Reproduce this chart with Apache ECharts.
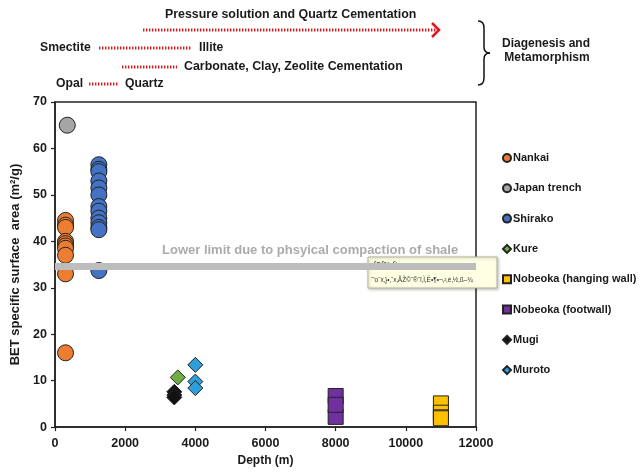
<!DOCTYPE html>
<html>
<head>
<meta charset="utf-8">
<script src="https://cdn.jsdelivr.net/npm/echarts@6/dist/echarts.min.js"></script>
<style>
  html, body { margin: 0; padding: 0; background: #fff; }
  #chart { width: 641px; height: 472px; }
</style>
</head>
<body>
<div id="chart"></div>
<script>
// Sample depths (m) and BET specific surface areas (m²/g) per locality
const nankaiDepth = 300;
const nankaiArea = [44.5, 43.5, 43, 40, 39.5, 39, 38.5, 37, 33, 16];
const japanTrenchDepth = 350;
const japanTrenchArea = [65];
const shirakoDepth = 1250;
const shirakoArea = [56.5, 55.5, 55, 53, 51.5, 50, 47.5, 46.5, 45, 44, 43, 42.5, 33.7];
const kureDepth = 3500;
const kureArea = [10.7];
const hangingWallDepth = 11000;
const hangingWallArea = [5.1, 3.1, 2.1, 1.9];
const footwallDepth = 8000;
const footwallArea = [2.2, 6.7, 4.8];
const mugiDepth = 3400;
const mugiArea = [7.6, 6.9, 6.4];
const murotoDepth = 4000;
const murotoArea = [13.4, 9.8, 8.4];

// Compaction limit of shale
const compactionLimit = 34.6;

const xTicks = { min: 0, max: 12000, interval: 2000 };
const yTicks = { min: 0, max: 70, interval: 10 };

const seriesNames = ['Nankai', 'Japan trench', 'Shirako', 'Kure',
  'Nobeoka (hanging wall)', 'Nobeoka (footwall)', 'Mugi', 'Muroto'];

const FONT = '"Liberation Sans", Arial, sans-serif';
const INK = '#1a1a1a';

function pts(depth, values) {
  return values.map(v => [depth, v]);
}

function scatter(name, data, symbol, size, color) {
  return {
    name: name,
    type: 'scatter',
    data: data,
    symbol: symbol,
    symbolSize: size,
    itemStyle: { color: color, borderColor: '#222', borderWidth: 1, opacity: 1 },
    emphasis: { disabled: true }
  };
}

const series = [
  scatter(seriesNames[0], pts(nankaiDepth, nankaiArea), 'circle', 16, '#ED7D31'),
  scatter(seriesNames[1], pts(japanTrenchDepth, japanTrenchArea), 'circle', 16, '#A5A5A5'),
  scatter(seriesNames[2], pts(shirakoDepth, shirakoArea), 'circle', 16, '#4472C4'),
  scatter(seriesNames[3], pts(kureDepth, kureArea), 'diamond', 15, '#70AD47'),
  scatter(seriesNames[4], pts(hangingWallDepth, hangingWallArea), 'rect', [15, 15], '#FFC000'),
  scatter(seriesNames[5], pts(footwallDepth, footwallArea), 'rect', [15, 15], '#7030A0'),
  scatter(seriesNames[6], pts(mugiDepth, mugiArea), 'diamond', 15, '#111111'),
  scatter(seriesNames[7], pts(murotoDepth, murotoArea), 'diamond', 15, '#2E9FDB')
];

// Grey band marking the compaction limit, drawn beneath the markers
series.unshift({
  name: 'limit',
  type: 'scatter',
  data: [],
  silent: true,
  z: 1,
  markLine: {
    silent: true,
    symbol: 'none',
    label: { show: false },
    lineStyle: { color: '#BDBDBD', width: 7, type: 'solid' },
    data: [[{ coord: [xTicks.min, compactionLimit] }, { coord: [xTicks.max, compactionLimit] }]]
  }
});

const red = '#E3141B';
const dotted = { stroke: red, lineWidth: 3, lineDash: [1.4, 1.6] };
const boldText = (x, y, text, size, extra) => ({
  type: 'text', x: x, y: y,
  style: Object.assign({ text: text, font: 'bold ' + size + 'px ' + FONT, fill: INK,
    textVerticalAlign: 'middle' }, extra || {})
});
const stroke = { stroke: '#111', lineWidth: 1.5, fill: null };

const graphics = [
  boldText(165, 15, 'Pressure solution and Quartz Cementation', 12.4),
  { type: 'line', shape: { x1: 143, y1: 30, x2: 436, y2: 30 }, style: dotted },
  { type: 'polyline', shape: { points: [[432, 23], [439, 30], [432, 37]] },
    style: { stroke: red, lineWidth: 2.5, fill: null } },
  boldText(40, 48, 'Smectite', 12.2),
  { type: 'line', shape: { x1: 99, y1: 48, x2: 191, y2: 48 }, style: dotted },
  boldText(199, 48, 'Illite', 12.2),
  { type: 'line', shape: { x1: 122, y1: 67, x2: 177, y2: 67 }, style: dotted },
  boldText(184, 67, 'Carbonate, Clay, Zeolite Cementation', 12.4),
  boldText(56, 84, 'Opal', 12.2),
  { type: 'line', shape: { x1: 89, y1: 84, x2: 119, y2: 84 }, style: dotted },
  boldText(125, 84, 'Quartz', 12.2),
  // curly brace
  { type: 'bezierCurve', shape: { x1: 478, y1: 21, x2: 484, y2: 28, cpx1: 484, cpy1: 21 }, style: stroke },
  { type: 'line', shape: { x1: 484, y1: 28, x2: 484, y2: 47 }, style: stroke },
  { type: 'bezierCurve', shape: { x1: 484, y1: 47, x2: 490, y2: 53, cpx1: 484, cpy1: 53 }, style: stroke },
  { type: 'bezierCurve', shape: { x1: 490, y1: 53, x2: 484, y2: 59, cpx1: 484, cpy1: 53 }, style: stroke },
  { type: 'line', shape: { x1: 484, y1: 59, x2: 484, y2: 78 }, style: stroke },
  { type: 'bezierCurve', shape: { x1: 484, y1: 78, x2: 478, y2: 85, cpx1: 484, cpy1: 85 }, style: stroke },
  boldText(546, 44, 'Diagenesis and', 12, { textAlign: 'center' }),
  boldText(547, 58, 'Metamorphism', 12, { textAlign: 'center' }),
  // band caption
  boldText(162, 250, 'Lower limit due to phsyical compaction of shale', 13, { fill: '#ABABAB' }),
  // pop-up note box
  {
    type: 'group', x: 368, y: 257, z: 100,
    children: [
      { type: 'rect', shape: { x: 0, y: 0, width: 129, height: 31 },
        style: { fill: '#FFFFE3', stroke: '#B5B5A0', lineWidth: 1,
          shadowBlur: 3, shadowColor: 'rgba(0,0,0,0.25)', shadowOffsetX: 1, shadowOffsetY: 1 } },
      { type: 'text', x: 5, y: 8,
        style: { text: 'f0f‰ft', font: 'italic 9px ' + FONT, fill: '#333', textVerticalAlign: 'middle' } },
      { type: 'text', x: 3, y: 23,
        style: { text: '˜\u2019o˜x‚}•‚˜x‚ÅŽ©˜®˜ï‚Ì‚É•¶•¬‚²‚é‚½‚ß–¾', font: '6.5px ' + FONT,
          fill: '#333', textVerticalAlign: 'middle' } }
    ]
  }
];

const plainNumber = v => String(v);

const chart = echarts.init(document.getElementById('chart'), null, { renderer: 'canvas' });
chart.setOption({
  animation: false,
  backgroundColor: '#ffffff',
  grid: { left: 55, right: 165, top: 102, bottom: 40, show: true,
    borderColor: '#222', borderWidth: 1.5, backgroundColor: 'transparent' },
  legend: {
    data: seriesNames,
    orient: 'vertical',
    left: 497,
    top: 146,
    itemWidth: 8,
    itemHeight: 8,
    itemGap: 16.3,
    selectedMode: false,
    textStyle: { fontFamily: FONT, fontWeight: 'bold', fontSize: 11, color: INK,
      lineHeight: 14, padding: [0, 0, 0, -3] }
  },
  xAxis: {
    type: 'value',
    min: xTicks.min, max: xTicks.max, interval: xTicks.interval,
    name: 'Depth (m)',
    nameLocation: 'middle',
    nameGap: 26,
    nameTextStyle: { fontFamily: FONT, fontWeight: 'bold', fontSize: 12, color: INK },
    axisLine: { lineStyle: { color: '#222', width: 1.5 } },
    axisTick: { show: true, length: 4, lineStyle: { color: '#222', width: 1.2 } },
    axisLabel: { fontFamily: FONT, fontWeight: 'bold', fontSize: 12.5, color: INK, margin: 10,
      formatter: plainNumber },
    splitLine: { show: false }
  },
  yAxis: {
    type: 'value',
    min: yTicks.min, max: yTicks.max, interval: yTicks.interval,
    name: 'BET specific surface  area (m²/g)',
    nameLocation: 'middle',
    nameGap: 27,
    nameTextStyle: { fontFamily: FONT, fontWeight: 'bold', fontSize: 13, color: INK },
    axisLine: { lineStyle: { color: '#222', width: 1.5 } },
    axisTick: { show: true, length: 4, lineStyle: { color: '#222', width: 1.2 } },
    axisLabel: { fontFamily: FONT, fontWeight: 'bold', fontSize: 12.5, color: INK, margin: 8,
      formatter: plainNumber },
    splitLine: { show: false }
  },
  graphic: graphics,
  series: series
});
</script>
</body>
</html>
